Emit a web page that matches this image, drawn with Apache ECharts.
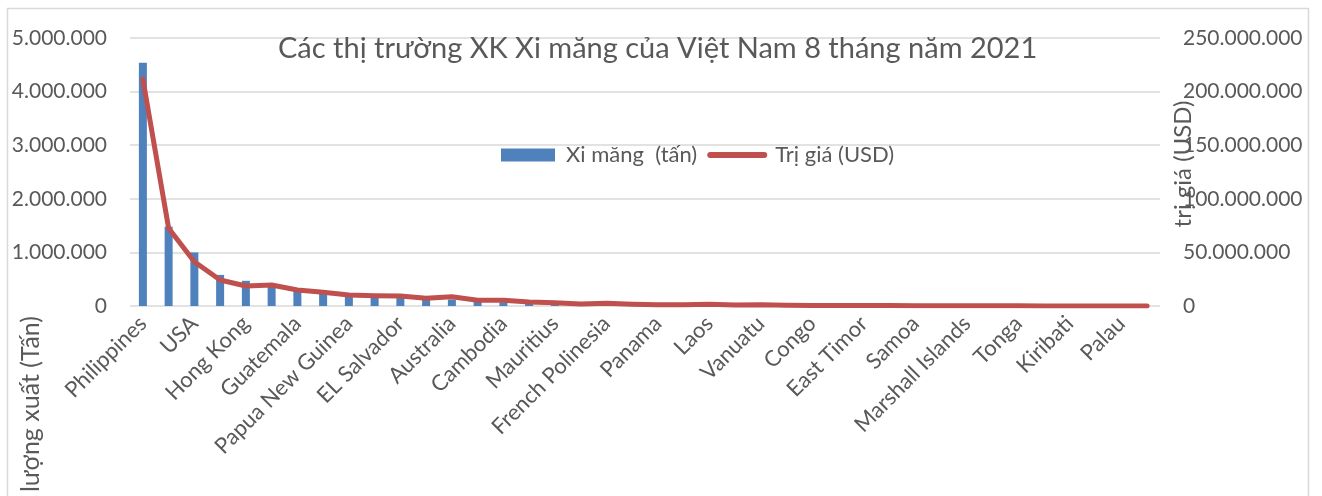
<!DOCTYPE html>
<html>
<head>
<meta charset="utf-8">
<script src="https://cdn.jsdelivr.net/npm/echarts@6/dist/echarts.min.js"></script>
<style>
  html, body { margin: 0; padding: 0; background: #fff; }
  #chart { width: 1322px; height: 496px; }
</style>
</head>
<body>
<div id="chart"></div>
<script>
// thị trường (chỉ hiện nhãn chẵn như trong Excel)
const categories = [
  'Philippines', 'Bangladesh', 'USA', 'Taiwan', 'Hong Kong', 'Peru', 'Guatemala', 'Sri Lanka',
  'Papua New Guinea', 'Malaysia', 'EL Salvador', 'Japan', 'Australia', 'Singapore', 'Cambodia', 'Myanmar',
  'Mauritius', 'Madagascar', 'French Polinesia', 'New Caledonia', 'Panama', 'Fiji', 'Laos', 'Korea',
  'Vanuatu', 'Solomon Islands', 'Congo', 'Mozambique', 'East Timor', 'Nauru', 'Samoa', 'Micronesia',
  'Marshall Islands', 'Tuvalu', 'Tonga', 'Cameroon', 'Kiribati', 'Brunei', 'Palau', 'Maldives'
];
// Xi măng (tấn)
const tonnes = [
  4540000, 1480000, 1000000, 580000, 470000, 390000, 290000, 250000,
  200000, 170000, 150000, 130000, 120000, 80000, 70000, 50000,
  40000, 30000, 35000, 25000, 20000, 18000, 25000, 15000,
  20000, 10000, 8000, 7000, 6000, 7000, 5000, 4000,
  3000, 2500, 2000, 1500, 1200, 1000, 800, 500
];
// Trị giá (USD)
const valueUsd = [
  211500000, 72500000, 41300000, 24300000, 18700000, 19600000, 14900000, 12800000,
  10300000, 9600000, 9300000, 7200000, 8700000, 5300000, 5300000, 3700000,
  3100000, 1900000, 2500000, 1600000, 1200000, 1100000, 1700000, 900000,
  1200000, 600000, 500000, 400000, 400000, 500000, 300000, 250000,
  200000, 150000, 120000, 100000, 80000, 60000, 50000, 40000
];
const leftTicks = [0, 1000000, 2000000, 3000000, 4000000, 5000000];
const rightTicks = [0, 50000000, 100000000, 150000000, 200000000, 250000000];

const FONT = 'Lato, "Noto Sans", sans-serif';
const GREY = '#595959';

function dots(v) {
  return String(v).replace(/\B(?=(\d{3})+(?!\d))/g, '.');
}

const chart = echarts.init(document.getElementById('chart'));
chart.setOption({
  animation: false,
  textStyle: { fontFamily: FONT, color: GREY },
  title: {
    text: 'Các thị trường XK Xi măng của Việt Nam 8 tháng năm 2021',
    left: 278,
    top: 34,
    padding: 0,
    textStyle: { fontFamily: FONT, fontSize: 29, fontWeight: 'normal', color: GREY }
  },
  legend: {
    left: 501,
    top: 144,
    padding: 0,
    itemWidth: 54,
    itemHeight: 13,
    itemGap: 10,
    textStyle: { fontFamily: FONT, fontSize: 22, color: GREY, padding: [0, 0, 0, 6] },
    data: [
      { name: 'Xi măng  (tấn)', icon: 'rect' },
      {
        name: 'Trị giá (USD)',
        itemStyle: { opacity: 0 },
        lineStyle: { width: 6, color: '#C0504D', cap: 'round' }
      }
    ]
  },
  grid: { left: 130, right: 162, top: 38, bottom: 190 },
  xAxis: {
    type: 'category',
    data: categories,
    axisTick: { show: false },
    axisLine: { show: false },
    axisLabel: {
      interval: 1,
      rotate: 45,
      margin: 14,
      fontSize: 22,
      color: GREY,
      fontFamily: FONT
    }
  },
  yAxis: [
    {
      type: 'value',
      min: leftTicks[0],
      max: leftTicks[leftTicks.length - 1],
      interval: leftTicks[1] - leftTicks[0],
      axisLine: { show: false },
      axisTick: { show: false },
      splitLine: { lineStyle: { color: '#d9d9d9', width: 1.5 } },
      axisLabel: { margin: 23, fontSize: 21, color: GREY, fontFamily: FONT, formatter: dots }
    },
    {
      type: 'value',
      position: 'right',
      min: rightTicks[0],
      max: rightTicks[rightTicks.length - 1],
      interval: rightTicks[1] - rightTicks[0],
      axisLine: { show: false },
      axisTick: { show: false },
      splitLine: { show: false },
      axisLabel: { margin: 23, fontSize: 21, color: GREY, fontFamily: FONT, formatter: dots }
    }
  ],
  series: [
    {
      name: 'Xi măng  (tấn)',
      type: 'bar',
      data: tonnes,
      barWidth: 8,
      itemStyle: { color: '#4F81BD' }
    },
    {
      name: 'Trị giá (USD)',
      type: 'line',
      yAxisIndex: 1,
      data: valueUsd,
      symbol: 'none',
      lineStyle: { color: '#C0504D', width: 5, cap: 'round', join: 'round' },
      itemStyle: { color: '#C0504D' }
    }
  ],
  graphic: [
    {
      type: 'rect',
      silent: true,
      shape: { x: 7.5, y: 8.5, width: 1301, height: 500 },
      style: { fill: 'none', stroke: '#d9d9d9', lineWidth: 1.5 }
    },
    {
      type: 'text',
      x: 31,
      y: 316,
      rotation: Math.PI / 2,
      style: {
        text: 'Sản lượng xuất (Tấn)',
        fontFamily: FONT,
        fontSize: 25,
        fill: GREY,
        textAlign: 'right',
        textVerticalAlign: 'middle'
      }
    },
    {
      type: 'text',
      x: 1183,
      y: 164,
      rotation: Math.PI / 2,
      style: {
        text: 'trị giá (USD)',
        fontFamily: FONT,
        fontSize: 24,
        fill: GREY,
        textAlign: 'center',
        textVerticalAlign: 'middle'
      }
    }
  ]
});
</script>
</body>
</html>
